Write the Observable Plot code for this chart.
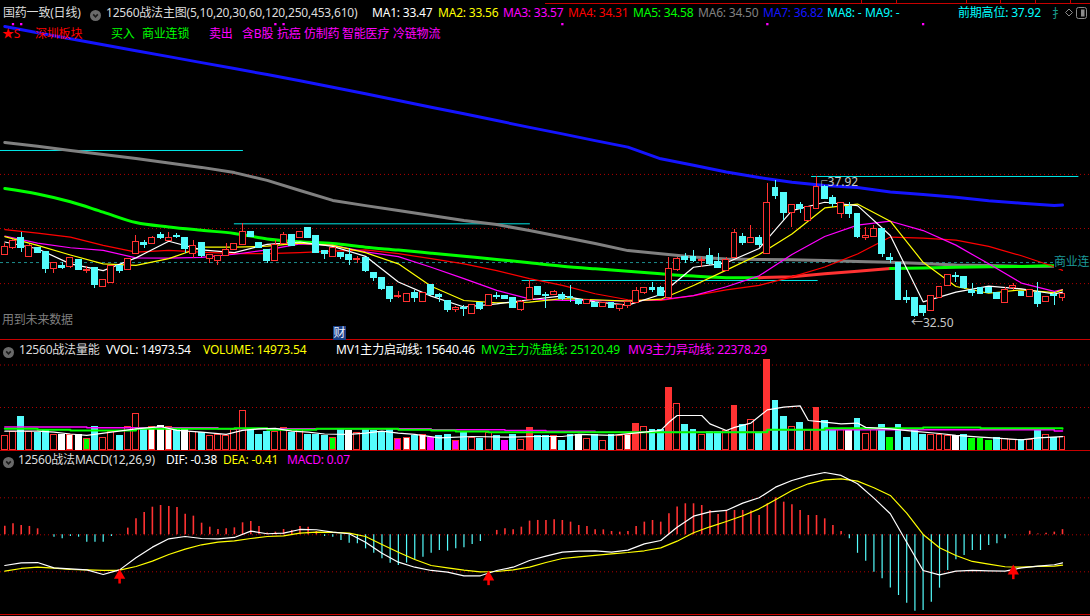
<!DOCTYPE html>
<html><head><meta charset="utf-8">
<script src="https://cdn.jsdelivr.net/npm/d3@7"></script>
<script src="https://cdn.jsdelivr.net/npm/@observablehq/plot@0.6"></script>
<style>
html,body{margin:0;padding:0;background:#000;}
#wrap{position:relative;width:1090px;height:616px;overflow:hidden;background:#000;font-family:"Noto Sans","Noto Sans CJK SC",sans-serif;font-size:12px;}
.t{position:absolute;white-space:nowrap;line-height:14px;height:14px;letter-spacing:-0.2px;}
.panel{position:absolute;left:0;}
.panel svg{display:block;}
.hl{position:absolute;left:0;width:1090px;height:1px;background:#c80000;}
</style></head><body><div id="wrap"></div>
<script>
// ---- daily bars (国药一致) ----
const open = [34.91,35.18,35.52,34.86,35.14,35.01,34.40,34.44,34.44,34.69,
 34.30,34.37,33.67,33.86,34.44,34.33,34.95,35.33,35.36,35.65,
 35.46,35.63,35.52,34.95,35.33,34.76,34.67,34.88,35.10,35.31,
 35.76,35.36,35.08,34.69,35.33,35.65,35.59,35.91,35.61,35.05,
 34.86,34.97,34.88,34.72,34.75,34.20,34.01,33.66,33.30,33.13,
 33.43,33.13,33.73,33.33,33.13,32.82,32.85,32.66,33.02,32.96,
 33.32,33.30,33.22,32.79,33.18,33.64,33.35,33.38,33.35,33.28,
 33.15,33.02,33.05,32.92,33.05,32.83,32.96,33.09,33.47,33.60,
 33.60,33.28,34.33,34.82,34.79,34.68,34.84,34.62,34.30,34.82,
 35.59,35.39,35.52,34.97,37.44,37.25,36.55,36.80,36.23,36.68,
 37.51,37.06,36.51,36.74,36.44,35.59,35.61,35.90,34.77,34.56,
 33.22,33.21,32.92,32.77,33.28,33.73,34.08,34.02,33.49,33.60,
 33.60,33.43,33.09,33.65,33.47,33.31,33.43,33.11,33.35,33.28];
const high = [35.36,35.50,35.78,35.30,35.20,35.05,34.60,34.63,34.80,34.72,
 34.44,34.40,33.95,34.50,34.46,34.75,35.65,35.46,35.61,35.78,
 35.78,35.74,35.55,35.46,35.40,34.90,34.88,35.33,35.33,36.10,
 35.78,35.40,35.10,35.46,35.76,35.68,35.78,35.93,35.63,35.07,
 35.16,35.00,35.14,34.85,34.78,34.23,34.03,33.70,33.50,33.40,
 33.54,33.47,33.75,33.41,33.15,32.92,32.96,33.00,33.05,33.38,
 33.47,33.33,33.25,33.15,33.92,33.66,33.47,33.54,33.47,33.73,
 33.17,33.20,33.07,33.05,33.07,32.98,33.12,33.66,33.62,33.86,
 33.70,34.79,34.82,34.95,35.08,34.79,35.14,34.95,34.79,35.87,
 35.71,36.03,35.65,37.64,37.78,37.27,36.82,36.93,36.76,37.92,
 37.57,37.19,36.90,36.93,36.47,35.97,36.03,35.93,34.97,34.60,
 33.53,33.23,32.95,33.33,33.66,34.13,34.24,34.04,33.79,33.65,
 33.62,33.45,33.64,33.79,33.50,33.56,33.86,33.30,33.47,33.40];
const low = [34.91,35.10,35.01,34.86,34.95,34.20,34.20,34.35,34.40,34.30,
 34.20,33.60,33.65,33.84,34.20,34.30,34.93,35.14,35.34,35.49,
 35.43,35.52,34.95,34.76,34.82,34.59,34.50,34.86,35.08,35.30,
 35.58,35.15,34.59,34.67,35.30,35.25,35.57,35.52,34.97,34.72,
 34.84,34.72,34.50,34.59,34.24,33.90,33.54,33.09,33.22,33.10,
 33.09,33.10,33.36,33.09,32.70,32.70,32.52,32.61,32.77,32.94,
 33.18,33.18,32.85,32.74,33.15,33.35,32.83,33.36,33.15,33.09,
 32.96,32.98,32.90,32.87,32.85,32.74,32.83,33.07,33.38,33.47,
 33.30,33.20,34.28,34.59,34.63,34.43,34.50,34.40,34.28,34.80,
 35.27,35.36,35.20,34.97,37.02,36.23,35.95,36.48,36.20,36.65,
 37.03,36.74,36.29,36.29,35.55,35.46,35.58,34.82,34.56,33.15,
 33.02,32.50,32.53,32.74,33.21,33.70,33.85,33.56,33.30,33.38,
 33.43,33.18,33.05,33.53,33.30,33.29,32.89,33.08,32.96,33.12];
const close = [35.18,35.43,35.20,35.23,35.01,34.40,34.56,34.43,34.76,34.35,
 34.31,33.77,33.92,34.44,34.31,34.72,35.38,35.30,35.52,35.56,
 35.52,35.62,35.14,35.23,34.88,34.88,34.85,35.08,35.31,35.76,
 35.61,35.18,34.69,35.27,35.65,35.27,35.76,35.56,35.01,34.95,
 35.14,34.85,34.73,34.74,34.30,34.02,33.60,33.22,33.32,33.38,
 33.28,33.41,33.38,33.30,32.79,32.84,32.83,32.96,32.83,33.34,
 33.30,33.22,32.87,33.09,33.60,33.38,33.33,33.47,33.22,33.25,
 33.05,33.15,32.92,33.02,32.87,32.96,33.09,33.50,33.60,33.58,
 33.35,34.33,34.72,34.72,34.69,34.70,34.59,34.43,34.69,35.71,
 35.39,35.52,35.30,36.90,37.19,36.55,36.80,36.68,36.74,37.48,
 37.06,36.87,36.87,36.48,35.62,35.61,35.90,34.97,34.74,33.18,
 33.20,32.58,32.70,33.30,33.64,34.11,34.06,33.64,33.47,33.41,
 33.47,33.21,33.53,33.67,33.34,33.53,33.05,33.28,33.33,33.38];
const volume = [15900,20900,38600,20900,19800,23900,17100,17100,17100,18000,
 13100,27600,14300,20900,15900,27600,42500,24900,26500,28000,
 26500,23500,23000,20900,19800,15900,17100,15900,23000,45300,
 23500,18000,20900,21400,25400,19800,23000,17100,18000,15900,
 14300,23000,22300,19800,23000,21900,20900,23500,13100,14300,
 15900,17100,14300,15900,18000,11100,19800,14300,13100,19800,
 15900,10400,17100,11900,25400,15900,15900,15900,11100,18000,
 18000,13100,18000,11100,18000,15900,17100,30800,27600,23500,
 23500,73100,54300,30000,23500,18000,20900,20900,22300,52300,
 29000,35500,19800,105300,57400,38600,27600,32100,22300,49600,
 34700,24900,24900,24900,35900,18500,24900,30000,14600,30000,
 14600,23000,17100,18000,17100,15900,15900,18000,13100,13100,
 11100,14300,13100,11900,11900,11900,21900,18000,14300,14973.54];
// volume bars with special fills
const volWhite = [7,8,9,18,19,20,22,42,49,51,67,70,76,103,116];
const volGreen = [10,40,108,118,119,120];
const volMagenta = [48,52,55,61];
const volSolidRed = [64,77,81,89,93,99];

// ---- moving averages (5,10,20,30,60,120,250) sampled along the bars ----
const maBars = [0,4,8,12,16,20,24,28,32,36,40,44,48,52,56,60,64,68,72,76,80,84,88,92,96,100,104,108,112,116,120,124,128,129];
const ma5   = [35.40,35.14,34.56,34.30,34.79,35.43,35.10,34.99,35.31,35.40,35.23,34.85,33.86,33.32,32.90,33.02,33.18,33.33,33.10,32.97,33.38,34.43,34.60,35.15,36.61,36.93,36.80,35.65,33.10,33.47,33.70,33.60,33.40,33.47];
const ma10  = [35.61,35.27,34.90,34.56,34.50,34.76,35.20,35.20,35.24,35.36,35.27,34.99,34.56,33.70,33.15,33.06,33.09,33.22,33.18,33.13,33.20,33.73,34.32,34.92,35.71,36.71,36.86,36.20,34.62,33.69,33.43,33.56,33.45,33.56];
const ma20  = [35.63,35.36,35.18,35.08,34.79,34.78,34.81,34.93,35.10,35.33,35.27,35.02,34.84,34.43,33.99,33.54,33.21,33.15,33.15,33.13,33.18,33.34,33.68,34.10,34.92,35.61,36.05,36.20,35.84,35.28,34.56,33.82,33.50,33.57];
const ma30  = [35.88,35.74,35.59,35.27,35.01,35.08,35.01,34.95,34.95,34.99,35.05,35.10,34.95,34.76,34.56,34.30,33.99,33.73,33.41,33.18,33.15,33.34,33.56,33.73,34.06,34.44,34.94,35.59,35.55,35.47,35.23,34.87,34.45,34.31];
const ma60  = [37.46,37.25,36.95,36.55,36.15,35.98,35.85,35.73,35.52,35.41,35.34,35.20,35.09,34.97,34.85,34.73,34.60,34.47,34.37,34.28,34.18,34.09,34.03,34.03,34.06,34.18,34.28,34.38,34.40,34.43,34.45,34.46,34.50,34.58];
const ma120 = [39.23,39.08,38.92,38.77,38.61,38.44,38.27,38.07,37.77,37.38,37.00,36.80,36.61,36.42,36.23,36.07,35.84,35.59,35.34,35.07,34.95,34.82,34.75,34.73,34.72,34.69,34.65,34.62,34.57,34.52,34.50,34.46,34.47,34.50];
const ma250 = [43.69,43.45,43.22,42.99,42.76,42.53,42.30,42.07,41.84,41.60,41.35,41.10,40.84,40.58,40.33,40.07,39.81,39.56,39.30,39.05,38.60,38.35,38.09,37.88,37.70,37.57,37.50,37.32,37.23,37.12,36.99,36.89,36.80,36.82];
const ma60RiseFrom = 92, ma60RiseTo = 108;   // MA60 drawn red while rising

// previous-high levels (price, from bar, to bar)
const levelPrice = [38.92, 36.10, 33.92, 37.92];
const levelFrom  = [-0.6, 28.0, 63.1, 98.4];
const levelTo    = [29.1, 64.1, 99.2, 131];
const boardLevel = 34.61;              // 商业连锁 reference
const gridMain = [38.00, 35.92, 33.80];
const signalBars = [1,2,33,34,68,93,112];
const signalLevel = 43.78;

// ---- volume moving lines ----
const mv1Bars = [0,4,6,8,10,13,16,19,21,24,27,29,31,33,35,37,39,42,44,46,48,50,53,57,61,65,68,70,74,78,80,81,82,85,86,88,89,91,93,95,97,98,100,102,104,105,108,111,114,116,119,121,124,126,129];
const mv1 = [22200,22200,21000,18800,17100,21100,24900,27600,23000,21100,18400,23000,24900,25500,22200,21100,18800,18400,19800,22200,19800,18400,14300,15900,15100,15900,15900,18400,17100,21100,23000,32700,40600,40600,30800,23000,26600,31700,47200,50400,51900,34700,32700,30800,31700,26600,24900,21900,19400,17100,15100,13900,11900,14300,15640.46];
const mv2Bars = [0,4,8,16,28,32,38,48,52,55,59,93,100,112,119,129];
const mv2 = [24900,23700,23000,24900,25500,23700,24900,23700,23000,21900,20800,23700,25500,26600,25500,25120.49];
const mv3Bars = [0,10,26,52,61,66,72,93,128,129];
const mv3 = [27200,26100,24900,23700,23000,22200,20800,23700,22378.29,22378.29];

// ---- MACD(12,26,9) ----
const macdHist = [0.116,0.149,0.126,0.113,0.081,0.0,-0.032,-0.055,-0.023,-0.032,
 -0.10,-0.10,-0.10,-0.023,0.005,0.09,0.216,0.301,0.373,0.396,
 0.383,0.369,0.279,0.252,0.157,0.103,0.072,0.081,0.094,0.162,
 0.18,0.113,0.023,0.036,0.072,0.059,0.113,0.103,0.045,-0.023,
 -0.032,-0.077,-0.113,-0.122,-0.19,-0.248,-0.325,-0.383,-0.415,-0.383,
 -0.347,-0.302,-0.248,-0.212,-0.221,-0.19,-0.176,-0.131,-0.09,0.0,
 0.059,0.081,0.068,0.103,0.185,0.194,0.193,0.202,0.193,0.171,
 0.126,0.112,0.067,0.067,0.045,0.036,0.045,0.112,0.171,0.193,
 0.171,0.284,0.374,0.419,0.419,0.396,0.329,0.275,0.329,0.329,
 0.329,0.32,0.261,0.419,0.50,0.441,0.405,0.329,0.261,0.261,
 0.216,0.126,0.045,-0.054,-0.25,-0.356,-0.505,-0.595,-0.72,-0.82,
 -0.924,-1.032,-1.023,-0.91,-0.721,-0.482,-0.338,-0.279,-0.212,-0.212,
 -0.144,-0.122,-0.054,0.0,0.0,0.049,0.01,0.022,0.036,0.07];
const macdBars = [0,2,4,6,8,10,12,13,14,16,18,20,22,24,26,28,30,32,34,36,38,40,42,44,46,48,50,52,54,56,58,60,62,64,66,68,70,72,74,76,78,80,82,84,86,88,90,92,94,96,98,100,102,104,106,108,110,112,114,116,118,120,122,124,126,128,129];
const dif = [-0.415,-0.38,-0.375,-0.447,-0.46,-0.474,-0.536,-0.505,-0.474,
 -0.311,-0.167,-0.054,-0.023,-0.05,-0.054,-0.036,0.05,0.014,0.023,
 0.072,0.068,0.036,0.014,-0.1,-0.248,-0.37,-0.438,-0.482,-0.505,
 -0.554,-0.554,-0.482,-0.438,-0.347,-0.289,-0.234,-0.221,-0.216,-0.234,
 -0.207,-0.122,-0.077,0.103,0.252,0.31,0.329,0.428,0.5,0.644,
 0.734,0.797,0.842,0.802,0.689,0.495,0.284,-0.1,-0.482,-0.541,
 -0.491,-0.482,-0.487,-0.491,-0.446,-0.423,-0.405,-0.38];
const dea = [-0.492,-0.455,-0.437,-0.45,-0.469,-0.474,-0.482,-0.48,-0.478,
 -0.428,-0.356,-0.266,-0.194,-0.135,-0.1,-0.081,-0.05,-0.023,-0.014,
 0.023,0.036,0.032,0.023,-0.023,-0.131,-0.235,-0.334,-0.415,-0.446,
 -0.478,-0.5,-0.496,-0.474,-0.437,-0.374,-0.32,-0.298,-0.279,-0.257,
 -0.239,-0.216,-0.176,-0.086,0.027,0.108,0.18,0.257,0.351,0.473,
 0.599,0.689,0.743,0.757,0.725,0.635,0.532,0.293,0.005,-0.176,
 -0.279,-0.36,-0.396,-0.432,-0.437,-0.428,-0.423,-0.41];
const crossBars = [14, 59, 123];
const crossTip  = [-0.505, -0.527, -0.446];

// ---- colours ----
const RED = "#ff3232", CYAN = "#54fcfc", GREEN = "#00ff00", MAG = "#ff00ff",
      YEL = "#ffff00", WHITE = "#ffffff", GRAY = "#808080", BLUE = "#1414ff",
      LEVEL = "#00e6e6", GRID = "#b00000";
const FONT = '"Noto Sans","Noto Sans CJK SC",sans-serif';

const N = open.length;
const idx = d3.range(N);
const xOpt = {type: "linear", domain: [0, N - 1], range: [4.3, 1062], axis: null};
const pts = (bs, vs) => bs.map((b, k) => ({b, v: vs[k]}));
const last = a => a[a.length - 1];

const candles = idx.map(i => ({i, o: open[i], h: high[i], l: low[i], c: close[i], up: close[i] >= open[i]}));

// ---- main price panel ----
const ma60Pts = pts(maBars, ma60);
const main = Plot.plot({
  width: 1090, height: 339, margin: 0,
  x: xOpt,
  y: {domain: [31.612, 44.689], range: [340, 0], axis: null},
  color: {type: "identity"},
  style: {background: "transparent", overflow: "hidden"},
  marks: [
    Plot.ruleY(gridMain, {stroke: GRID, strokeDasharray: "1,3"}),
    Plot.ruleY([boardLevel], {stroke: "#1d8c8c", strokeDasharray: "3,3"}),
    Plot.ruleY(levelPrice.map((v, k) => ({v, a: levelFrom[k], b: levelTo[k]})), {y: "v", x1: "a", x2: "b", stroke: LEVEL}),
    Plot.line(pts(maBars, ma250), {x: "b", y: "v", stroke: BLUE, strokeWidth: 3}),
    Plot.line(pts(maBars, ma120), {x: "b", y: "v", stroke: GRAY, strokeWidth: 3}),
    Plot.line(ma60Pts.filter(d => d.b <= ma60RiseFrom), {x: "b", y: "v", stroke: GREEN, strokeWidth: 3, curve: "monotone-x"}),
    Plot.line(ma60Pts.filter(d => d.b >= ma60RiseFrom && d.b <= ma60RiseTo), {x: "b", y: "v", stroke: RED, strokeWidth: 3}),
    Plot.line(ma60Pts.filter(d => d.b >= ma60RiseTo), {x: "b", y: "v", stroke: GREEN, strokeWidth: 3}),
    Plot.line(pts(maBars, ma30), {x: "b", y: "v", stroke: "#ff0000", strokeWidth: 1.2}),
    Plot.line(pts(maBars, ma20), {x: "b", y: "v", stroke: MAG, strokeWidth: 1.2}),
    Plot.line(pts(maBars, ma10), {x: "b", y: "v", stroke: YEL, strokeWidth: 1.2}),
    Plot.line(pts(maBars, ma5), {x: "b", y: "v", stroke: WHITE, strokeWidth: 1.2}),
    Plot.ruleX(candles, {x: "i", y1: "l", y2: "h", stroke: d => d.up ? RED : CYAN, shapeRendering: "crispEdges"}),
    Plot.rect(candles, {x1: d => d.i - 0.36, x2: d => d.i + 0.36, y1: "o", y2: "c",
      fill: d => d.up ? "#000" : CYAN, stroke: d => d.up ? RED : CYAN,
      insetTop: -0.5, insetBottom: -0.5, shapeRendering: "crispEdges"}),
    Plot.dot(signalBars.map(b => ({b})), {x: "b", y: () => signalLevel, symbol: "square", r: 1.3, fill: MAG}),
    Plot.text([{b: d3.maxIndex(high), v: d3.max(high)}], {x: "b", y: "v", text: d => "┌" + d.v.toFixed(2),
      textAnchor: "start", dy: 6, dx: -1, fill: "#c8c8c8", fontSize: 12, fontFamily: FONT}),
    Plot.text([{b: d3.minIndex(low), v: d3.min(low)}], {x: "b", y: "v", text: d => "←" + d.v.toFixed(2),
      textAnchor: "start", dy: 6, dx: -4, fill: "#c8c8c8", fontSize: 12, fontFamily: FONT})
  ]
});

// ---- volume panel ----
const volRows = idx.map(i => {
  const up = close[i] >= open[i];
  let fill = up ? "#000" : CYAN, stroke = up ? RED : CYAN;
  if (volWhite.includes(i)) { fill = WHITE; stroke = up ? RED : WHITE; }
  if (volGreen.includes(i)) { fill = GREEN; stroke = up ? RED : GREEN; }
  if (volMagenta.includes(i)) { fill = MAG; stroke = up ? RED : MAG; }
  if (volSolidRed.includes(i)) { fill = RED; stroke = RED; }
  return {i, v: volume[i], fill, stroke};
});
const vol = Plot.plot({
  width: 1090, height: 110, margin: 0,
  x: xOpt,
  y: {domain: [0, 100000], range: [109.5, 24.5], axis: null},
  color: {type: "identity"},
  style: {background: "transparent", overflow: "hidden"},
  marks: [
    Plot.ruleY([50000, 100000], {stroke: GRID, strokeDasharray: "1,3"}),
    Plot.rect(volRows, {x1: d => d.i - 0.36, x2: d => d.i + 0.36, y1: 0, y2: "v", fill: "fill", stroke: "stroke", shapeRendering: "crispEdges"}),
    Plot.line(pts(mv3Bars, mv3), {x: "b", y: "v", stroke: MAG, strokeWidth: 1.5, curve: "step-after"}),
    Plot.line(pts(mv2Bars, mv2), {x: "b", y: "v", stroke: GREEN, strokeWidth: 2, curve: "step-after"}),
    Plot.line(pts(mv1Bars, mv1), {x: "b", y: "v", stroke: WHITE, strokeWidth: 1.2})
  ]
});

// ---- MACD panel ----
const histRows = idx.map(i => ({i, v: macdHist[i]}));
const arrows = crossBars.map((b, k) => ({b, tip: crossTip[k]}));
const macd = Plot.plot({
  width: 1090, height: 165, margin: 0,
  x: xOpt,
  y: {domain: [-1, 1], range: [157.3, 9.3], axis: null},
  color: {type: "identity"},
  style: {background: "transparent", overflow: "hidden"},
  marks: [
    Plot.ruleY([-0.5, 0, 0.5], {stroke: GRID, strokeDasharray: "1,3"}),
    Plot.ruleX(histRows.filter(d => d.v !== 0), {x: "i", y1: 0, y2: "v", stroke: d => d.v > 0 ? RED : CYAN,
      strokeWidth: d => d.v > 0 ? 1.6 : 1.2}),
    Plot.line(pts(macdBars, dea), {x: "b", y: "v", stroke: YEL, strokeWidth: 1.2}),
    Plot.line(pts(macdBars, dif), {x: "b", y: "v", stroke: WHITE, strokeWidth: 1.2}),
    Plot.ruleX(arrows, {x: "b", y1: d => d.tip - 0.07, y2: d => d.tip - 0.16, stroke: "#ff0000", strokeWidth: 2.5}),
    Plot.dot(arrows, {x: "b", y: d => d.tip - 0.045, symbol: "triangle", r: 4.2, fill: "#ff0000"})
  ]
});

// ---- page assembly ----
const wrap = document.getElementById("wrap");
function place(node, top) {
  const d = document.createElement("div");
  d.className = "panel"; d.style.top = top + "px";
  d.appendChild(node); wrap.appendChild(d);
}
place(main, 0);
place(vol, 340);
place(macd, 451);

function label(x, yc, text, color, extra) {
  const s = document.createElement("div");
  s.className = "t"; s.style.left = x + "px"; s.style.top = (yc - 7) + "px";
  s.style.color = color; s.textContent = text;
  if (extra) Object.assign(s.style, extra);
  wrap.appendChild(s); return s;
}
function icon(x, yc) {
  const s = document.createElement("div");
  s.style.cssText = `position:absolute;left:${x}px;top:${yc - 5.5}px;width:11px;height:11px;`;
  s.innerHTML = '<svg width="11" height="11"><circle cx="5.5" cy="5.5" r="5.5" fill="#6a6a6a"/><path d="M3.2 4.4 L5.5 6.8 L7.8 4.4" stroke="#1a1a1a" stroke-width="1.6" fill="none"/></svg>';
  wrap.appendChild(s);
}
function hline(y, color) {
  const d = document.createElement("div");
  d.className = "hl"; d.style.top = y + "px"; if (color) d.style.background = color;
  wrap.appendChild(d);
}
hline(339); hline(450); hline(614);
// top strip with ticks
const strip = document.createElement("div");
strip.style.cssText = "position:absolute;left:545px;top:3px;width:545px;height:1px;background:#c80000;";
wrap.appendChild(strip);
[861, 896, 966, 1000, 1035, 1070].forEach(x => {
  const t = document.createElement("div");
  t.style.cssText = `position:absolute;left:${x}px;top:0;width:1px;height:3px;background:#c80000;`;
  wrap.appendChild(t);
});

const f2 = v => v.toFixed(2);
// main header
label(3, 13, "国药一致(日线)", "#dcdcdc");
icon(90, 13);
label(106, 13, "12560战法主图(5,10,20,30,60,120,250,453,610)", "#dcdcdc");
label(372, 13, "MA1: " + f2(last(ma5)), WHITE);
label(438, 13, "MA2: " + f2(last(ma10)), YEL);
label(503, 13, "MA3: " + f2(last(ma20)), MAG);
label(568, 13, "MA4: " + f2(last(ma30)), "#ff0000");
label(633, 13, "MA5: " + f2(last(ma60)), GREEN);
label(698, 13, "MA6: " + f2(last(ma120)), GRAY);
label(763, 13, "MA7: " + f2(last(ma250)), BLUE);
label(827, 13, "MA8: -", "#00ffff");
label(865, 13, "MA9: -", "#00ffff");
label(958, 13, "前期高位: " + f2(d3.max(high)), "#00ffff");
// toolbar icons
const tools = document.createElement("div");
tools.style.cssText = "position:absolute;left:1052px;top:5px;width:38px;height:16px;";
tools.innerHTML = '<svg width="38" height="16">' +
  '<text x="0" y="12.5" font-size="12" fill="#1a9a8a" font-family=\'"Noto Sans CJK SC",sans-serif\'>扌</text>' +
  '<path d="M13.5 7.5 L17 4 L20.5 7.5 L17 11 Z" stroke="#8a8a8a" fill="none" stroke-width="1"/>' +
  '<rect x="24.5" y="2.5" width="10" height="11" rx="2" stroke="#8a8a8a" fill="none"/>' +
  '<rect x="29" y="4.5" width="3.5" height="7" fill="#8a8a8a"/></svg>';
wrap.appendChild(tools);

label(2, 34, "★S", "#ff0000");
label(35, 34, "深圳板块", "#ff0000");
label(111, 34, "买入", GREEN);
label(142, 34, "商业连锁", GREEN);
label(209, 34, "卖出", MAG);
label(242, 34, "含B股", MAG);
label(277, 34, "抗癌", MAG);
label(304, 34, "仿制药", MAG);
label(342, 34, "智能医疗", MAG);
label(393, 34, "冷链物流", MAG);

label(2, 320, "用到未来数据", "#7f7f7f");
label(333, 333, "财", "#e8f0ff", {background: "#1c3f86", width: "13px", textAlign: "center"});
label(1054, 262, "商业连", "#1d9a9a", {background: "#000"});

// volume header
icon(3, 350);
label(19, 350, "12560战法量能", "#dcdcdc");
label(106, 350, "VVOL: " + f2(last(volume)), WHITE);
label(203, 350, "VOLUME: " + f2(last(volume)), YEL);
label(336, 350, "MV1主力启动线: " + f2(last(mv1)), WHITE);
label(481, 350, "MV2主力洗盘线: " + f2(last(mv2)), GREEN);
label(628, 350, "MV3主力异动线: " + f2(last(mv3)), MAG);

// MACD header
icon(3, 460);
label(18, 460, "12560战法MACD(12,26,9)", "#dcdcdc");
label(166, 460, "DIF: " + f2(last(dif)), WHITE);
label(223, 460, "DEA: " + f2(last(dea)), YEL);
label(287, 460, "MACD: " + f2(last(macdHist)), MAG);
</script></body></html>
